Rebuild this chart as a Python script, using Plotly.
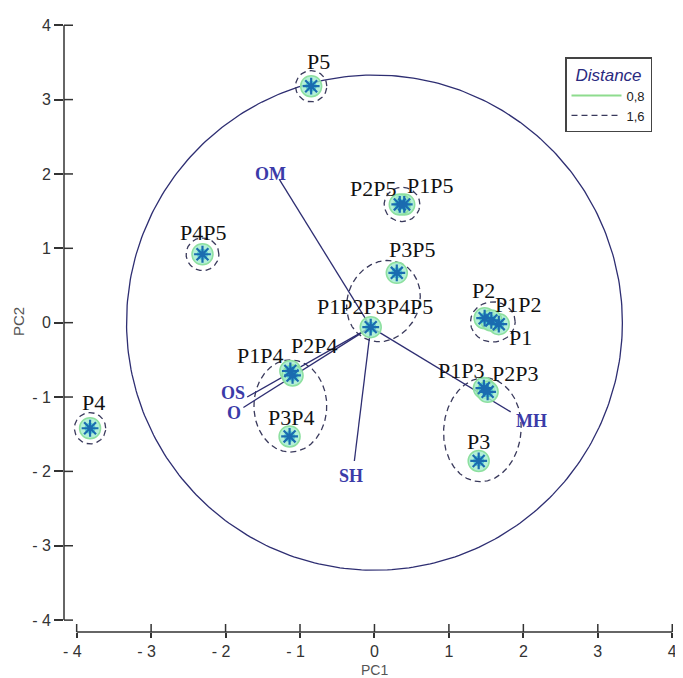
import numpy as np
import plotly.graph_objects as go

# ---------------- data ----------------
point_names = ["P1", "P2", "P3", "P4", "P5", "P1P2", "P1P3", "P2P3", "P1P4", "P2P4",
               "P3P4", "P1P5", "P2P5", "P3P5", "P4P5", "P1P2P3P4P5"]
pc1 = [1.67, 1.48, 1.40, -3.82, -0.85, 1.57, 1.47, 1.52, -1.13, -1.10,
       -1.14, 0.40, 0.34, 0.30, -2.31, -0.05]
pc2 = [-0.02, 0.06, -1.86, -1.42, 3.18, 0.03, -0.88, -0.93, -0.65, -0.71,
       -1.53, 1.59, 1.59, 0.67, 0.92, -0.06]

variable_names = ["OM", "OS", "O", "SH", "MH"]
var_pc1 = [-1.28, -1.71, -1.76, -0.27, 1.83]
var_pc2 = [1.93, -1.00, -1.14, -1.86, -1.20]
var_label_pc1 = [-1.40, -1.90, -1.88, -0.32, 2.11]
var_label_pc2 = [2.00, -0.95, -1.22, -2.06, -1.32]
vector_origin = "P1P2P3P4P5"

# cluster contours at distance 1.6 (centre, semi-axes, tilt in degrees)
cluster_cx = [-0.85, 0.37, -2.31, -3.82, 1.59, 0.12, -1.13, 1.45]
cluster_cy = [3.18, 1.59, 0.92, -1.42, 0.01, 0.29, -1.12, -1.44]
cluster_a = [0.21, 0.24, 0.22, 0.21, 0.30, 0.56, 0.62, 0.70]
cluster_b = [0.21, 0.23, 0.22, 0.21, 0.27, 0.48, 0.49, 0.52]
cluster_angle = [0, 0, 0, 0, 0, 65, 90, 85]

circle_radius = 3.33

tick_vals = [-4, -3, -2, -1, 0, 1, 2, 3, 4]
tick_text = ["- 4", "- 3", "- 2", "- 1", "0", "1", "2", "3", "4"]

legend_labels = ["0,8", "1,6"]
x_title, y_title = "PC1", "PC2"

# ---------------- layout helpers (pixel offsets for labels) ----------------
label_offsets = {
    "P1": (22, -13), "P2": (-1, 28), "P3": (0, 19), "P4": (3, 26), "P5": (7, 25),
    "P1P2": (27, 16), "P1P3": (-23, 18), "P2P3": (27, 18), "P1P4": (-30, 16),
    "P2P4": (21, 30), "P3P4": (1, 19), "P1P5": (26, 19), "P2P5": (-27, 16),
    "P3P5": (15, 23), "P4P5": (1, 22), "P1P2P3P4P5": (4, 21),
}

# the page body has an 8px margin, so the figure is 8px smaller and shifted
OFF = 8
X_RANGE = [-4.17, 4.01]
Y_RANGE = [-4.16, 4.03]
W, H = 683 - OFF, 678 - OFF
ML, MT = 64 - OFF, 23 - OFF
PW, PH = 609, 609
MR, MB = W - ML - PW, H - MT - PH
AXIS_Y_PAGE = MT + PH + OFF   # page y of the x axis line

SERIF = "Liberation Serif, Times New Roman, serif"
SANS = "Liberation Sans, Arial, sans-serif"
NAVY = "#2e2e72"
AST = "#1a6cb0"
NB = "\u00a0"

fig = go.Figure()

# big correlation circle
t = np.linspace(0, 2 * np.pi, 361)
fig.add_trace(go.Scatter(x=circle_radius * np.cos(t), y=circle_radius * np.sin(t),
                         mode="lines", line=dict(color=NAVY, width=1.3),
                         hoverinfo="skip", showlegend=False))

# dashed cluster contours
ex, ey = [], []
for cx, cy, a, b, ang in zip(cluster_cx, cluster_cy, cluster_a, cluster_b, cluster_angle):
    th = np.deg2rad(ang)
    ex += list(cx + a * np.cos(t) * np.cos(th) - b * np.sin(t) * np.sin(th)) + [None]
    ey += list(cy + a * np.cos(t) * np.sin(th) + b * np.sin(t) * np.cos(th)) + [None]
fig.add_trace(go.Scatter(x=ex, y=ey, mode="lines", name=legend_labels[1],
                         line=dict(color="#3a3a5c", width=1.3, dash="6px,4px"),
                         hoverinfo="skip", showlegend=True, legendrank=2))

# legend entry for the green 0,8 contours
fig.add_trace(go.Scatter(x=[None], y=[None], mode="lines", name=legend_labels[0],
                         line=dict(color="#8edc8e", width=2), legendrank=1))

# variable vectors
oi = point_names.index(vector_origin)
ox, oy = pc1[oi], pc2[oi]
vx, vy = [], []
for x1, y1 in zip(var_pc1, var_pc2):
    vx += [ox, x1, None]
    vy += [oy, y1, None]
fig.add_trace(go.Scatter(x=vx, y=vy, mode="lines", line=dict(color=NAVY, width=1.3),
                         hoverinfo="skip", showlegend=False))

# halos and asterisks
fig.add_trace(go.Scatter(x=pc1, y=pc2, mode="markers", showlegend=False, hoverinfo="skip",
                         marker=dict(symbol="circle", size=21, color="rgba(160,236,205,0.8)",
                                     line=dict(color="#8ee0a0", width=1.5))))
fig.add_trace(go.Scatter(x=pc1, y=pc2, mode="markers", showlegend=False, hoverinfo="skip",
                         marker=dict(symbol="circle", size=11, color="rgba(60,195,210,0.75)",
                                     line=dict(width=0))))
fig.add_trace(go.Scatter(x=pc1, y=pc2, mode="markers", showlegend=False,
                         text=point_names, hoverinfo="text",
                         marker=dict(symbol="asterisk-open", size=14, color=AST,
                                     line=dict(color=AST, width=2.2))))

annotations = []
for name, x, y in zip(point_names, pc1, pc2):
    dx, dy = label_offsets[name]
    annotations.append(dict(x=x, y=y, xref="x", yref="y", text=name, showarrow=False,
                            xshift=dx, yshift=dy,
                            font=dict(family=SERIF, size=22, color="#111")))
for name, x, y in zip(variable_names, var_label_pc1, var_label_pc2):
    annotations.append(dict(x=x, y=y, xref="x", yref="y", text="<b>%s</b>" % name,
                            showarrow=False,
                            font=dict(family=SERIF, size=18, color="#3b3ba8")))
# axis titles (pixel targets in the page)
annotations.append(dict(x=0, y=-(670 - AXIS_Y_PAGE) / PH, xref="x", yref="paper",
                        xanchor="center", yanchor="middle",
                        text=x_title, showarrow=False,
                        font=dict(family=SANS, size=14, color="#555")))
annotations.append(dict(x=(18 - ML - OFF) / PW, y=(AXIS_Y_PAGE - 322) / PH,
                        xref="paper", yref="paper", xanchor="center", yanchor="middle",
                        text=y_title, textangle=-90, showarrow=False,
                        font=dict(family=SANS, size=15, color="#555")))

# detached axis lines and inner halves of ticks
shapes = [
    dict(type="line", xref="paper", yref="y", x0=0, x1=0, y0=-4, y1=4,
         line=dict(color="#333", width=1.5)),
    dict(type="line", xref="x", yref="paper", x0=-4, x1=4, y0=0, y1=0,
         line=dict(color="#333", width=1.5)),
]
for v in tick_vals:
    shapes.append(dict(type="line", xref="x", yref="paper", x0=v, x1=v, y0=0, y1=8 / PH,
                       line=dict(color="#333", width=1.5)))
    shapes.append(dict(type="line", xref="paper", yref="y", x0=0, x1=9 / PW, y0=v, y1=v,
                       line=dict(color="#333", width=1.5)))

# x labels: pad on the right so the digit sits on the tick, as in the reference
x_tick_text = [s + NB * 2 if s.startswith("-") else s for s in tick_text]

fig.update_layout(
    width=W, height=H,
    margin=dict(l=ML, r=MR, t=MT, b=MB, pad=0, autoexpand=False),
    paper_bgcolor="white", plot_bgcolor="white",
    annotations=annotations, shapes=shapes,
    legend=dict(x=(565 - OFF - ML) / PW, y=(AXIS_Y_PAGE - 57) / PH,
                xanchor="left", yanchor="top",
                bgcolor="white", bordercolor="#444", borderwidth=1.5,
                font=dict(family=SANS, size=13, color="#222"),
                title=dict(text="Distance", side="top center",
                           font=dict(family=SANS, size=17, color="#2a2a80", style="italic")),
                tracegroupgap=0, itemwidth=50),
    xaxis=dict(range=X_RANGE, showgrid=False, zeroline=False, showline=False,
               automargin=False,
               tickmode="array", tickvals=tick_vals, ticktext=x_tick_text,
               ticks="outside", ticklen=5, tickwidth=1.5, tickcolor="#333",
               tickfont=dict(family=SANS, size=16, color="#333")),
    yaxis=dict(range=Y_RANGE, showgrid=False, zeroline=False, showline=False,
               automargin=False,
               tickmode="array", tickvals=tick_vals, ticktext=tick_text,
               ticks="outside", ticklen=9, tickwidth=1.5, tickcolor="#333",
               tickfont=dict(family=SANS, size=16, color="#333")),
    showlegend=True,
)

fig.write_html("out.html")
